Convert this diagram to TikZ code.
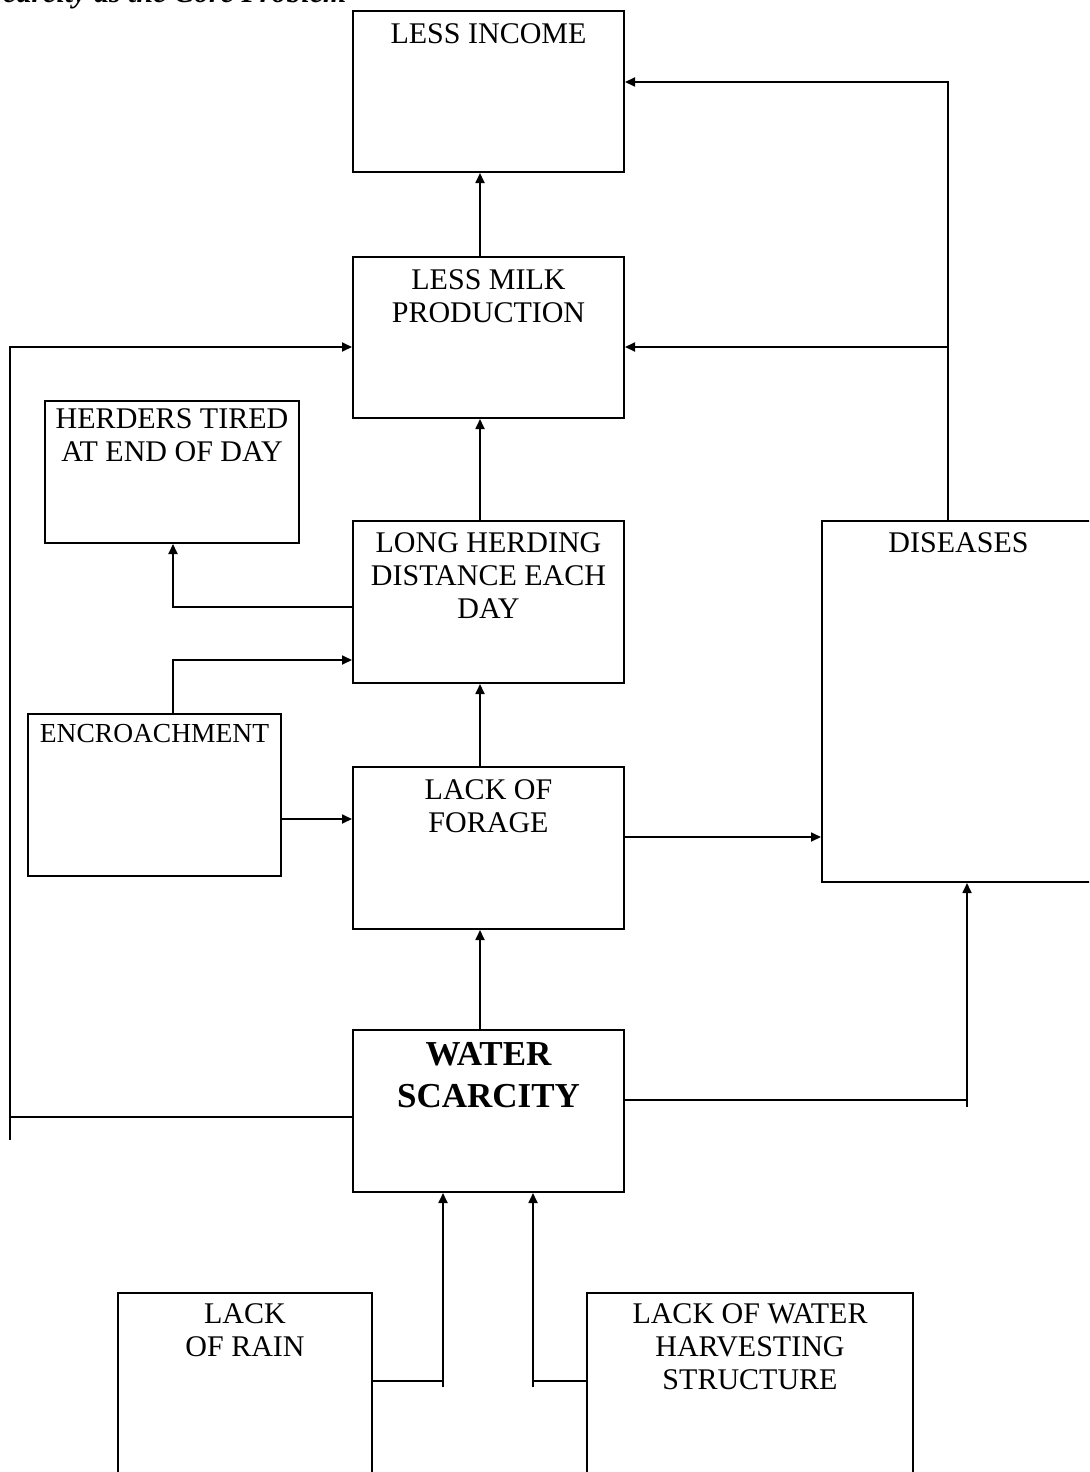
\documentclass[tikz,border=0pt]{standalone}
\usepackage{fontspec}
\setmainfont{Liberation Serif}
\usetikzlibrary{arrows.meta,fit,calc}
\tikzset{
  boxst/.style={draw, line width=0.8pt, inner sep=0pt},
  txt/.style={inner sep=0pt, align=center, font=\fontsize{12}{13.3}\selectfont},
  arr/.style={line width=0.7pt, -{Triangle[length=4pt,width=3.6pt]}},
  ln/.style={line width=0.7pt}
}
\newcommand\mybox[8][]{%
  \node[boxst, fit={(#3,#4)(#5,#6)}] (#2) {};
  \node[txt, anchor=north, #1] (#2t) at ($(#2.north)+(0,#7)$) {#8};
}
\begin{document}
\begin{tikzpicture}[x=0.4pt,y=-0.4pt]
\useasboundingbox (0,0) rectangle (1089,1472);
\clip (0,0) rectangle (1089,1472);

\node[font=\fontsize{12}{13.3}\selectfont\bfseries\itshape, anchor=base east, inner sep=0pt] (title) at (347,3) {Scarcity as the Core Problem};

\mybox{income}{353}{11}{624}{172}{13}{LESS INCOME}
\mybox{milk}{353}{257}{624}{418}{13}{LESS MILK\\PRODUCTION}
\mybox{herders}{45}{401}{299}{543}{8}{HERDERS TIRED\\AT END OF DAY}
\mybox{long}{353}{521}{624}{683}{12}{LONG HERDING\\DISTANCE EACH\\DAY}
\mybox{dis}{822}{521}{1095}{882}{12}{DISEASES}
\mybox[font=\fontsize{11}{12.5}\selectfont]{enc}{28}{714}{281}{876}{11}{ENCROACHMENT}
\mybox{forage}{353}{767}{624}{929}{13}{LACK OF\\FORAGE}
\mybox[font=\fontsize{14}{16.8}\selectfont\bfseries]{water}{353}{1030}{624}{1192}{13}{WATER\\SCARCITY}
\mybox{rain}{118}{1293}{372}{1500}{11}{LACK\\OF RAIN}
\mybox{harv}{587}{1293}{913}{1500}{11}{LACK OF WATER\\HARVESTING\\STRUCTURE}

\coordinate (xc) at (480,0);
\coordinate (xd) at (948,0);
\coordinate (xdb) at (967,0);
\coordinate (xl) at (10,0);
\coordinate (xh) at (173,0);
\coordinate (xr) at (443,0);
\coordinate (xw) at (533,0);
\coordinate (y82) at (0,82);
\coordinate (y347) at (0,347);
\coordinate (y607) at (0,607);
\coordinate (y660) at (0,660);
\coordinate (y819) at (0,819);
\coordinate (y837) at (0,837);
\coordinate (y1100) at (0,1100);
\coordinate (y1107) at (0,1107);
\coordinate (y1117) at (0,1117);
\coordinate (y1140) at (0,1140);
\coordinate (y1381) at (0,1381);
\coordinate (y1387) at (0,1387);

% main column
\draw[arr] (milk.north -| xc) -- (income.south -| xc);
\draw[arr] (long.north -| xc) -- (milk.south -| xc);
\draw[arr] (forage.north -| xc) -- (long.south -| xc);
\draw[arr] (water.north -| xc) -- (forage.south -| xc);

% diseases
\draw[arr] (dis.north -| xd) |- (income.east |- y82);
\draw[arr] (dis.north -| xd) |- (milk.east |- y347);

% water scarcity left loop
\draw[ln] (water.west |- y1117) -- (xl |- y1117);
\draw[arr] (xl |- y1140) -- (xl |- y347) -- (milk.west |- y347);

% water scarcity right to diseases
\draw[ln] (water.east |- y1100) -- (xdb |- y1100);
\draw[arr] (xdb |- y1107) -- (dis.south -| xdb);

% herders and encroachment
\draw[arr] (long.west |- y607) -| (herders.south -| xh);
\draw[arr] (enc.north -| xh) |- (long.west |- y660);
\draw[arr] (enc.east |- y819) -- (forage.west |- y819);
\draw[arr] (forage.east |- y837) -- (dis.west |- y837);

% bottom causes
\draw[ln] (rain.east |- y1381) -- (xr |- y1381);
\draw[arr] (xr |- y1387) -- (water.south -| xr);
\draw[ln] (harv.west |- y1381) -- (xw |- y1381);
\draw[arr] (xw |- y1387) -- (water.south -| xw);
\end{tikzpicture}
\end{document}
